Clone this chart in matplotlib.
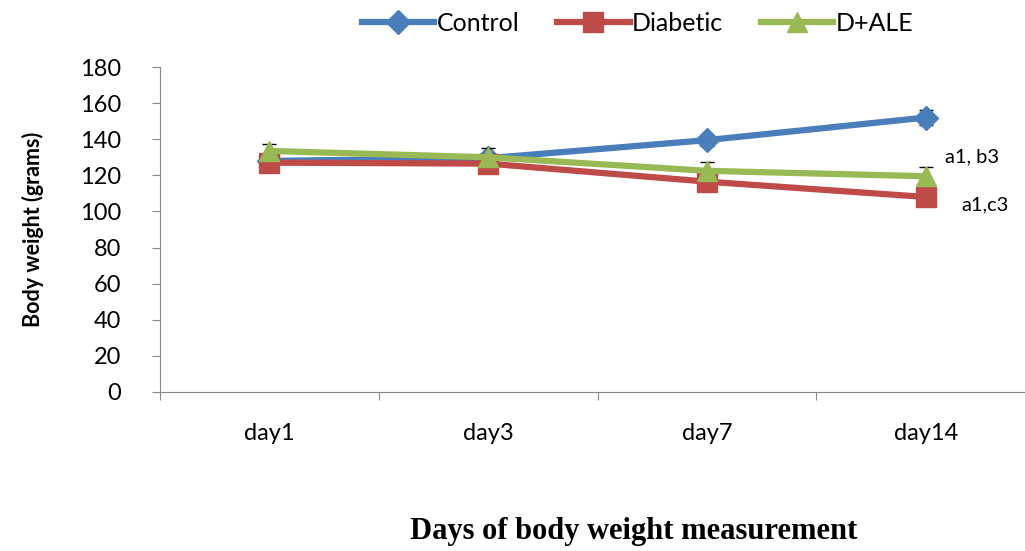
import matplotlib.pyplot as plt
import numpy as np

days = ['day1', 'day3', 'day7', 'day14']

control = [128, 129.5, 139.5, 152]
diabetic = [127, 126.5, 116.5, 108]
d_ale = [133.5, 130, 122.5, 119.5]

control_err = [3, 3, 3, 4]
diabetic_err = [4, 4, 4, 4]
d_ale_err = [4, 5, 5, 5]

blue = '#4a7ebb'
red = '#be4b48'
green = '#98b954'

plt.rcParams['font.family'] = ['Lato', 'DejaVu Sans']

fig = plt.figure(figsize=(10.25, 5.51), dpi=100)
ax = fig.add_axes([0.156, 0.2886, 0.854, 0.5898])
x = np.arange(len(days))

l1 = ax.errorbar(x, control, yerr=control_err, color=blue, lw=4.5, marker='D',
                 ms=12, ecolor='black', elinewidth=1, capsize=5, label='Control', zorder=3)
l2 = ax.errorbar(x, diabetic, yerr=diabetic_err, color=red, lw=4.5, marker='s',
                 ms=14, ecolor='black', elinewidth=1, capsize=5, label='Diabetic', zorder=4)
l3 = ax.errorbar(x, d_ale, yerr=d_ale_err, color=green, lw=4.5, marker='^',
                 ms=14, ecolor='black', elinewidth=1, capsize=5, label='D+ALE', zorder=5)

ax.set_xlim(-0.5, 3.5)
ax.set_ylim(0, 180)
ax.set_yticks(range(0, 181, 20))
ax.set_xticks(np.arange(-0.5, 3.6, 1), minor=False)
ax.set_xticklabels([])
ax.set_xticks(x, minor=True)
ax.set_xticklabels(days, minor=True, fontsize=17)
ax.tick_params(axis='x', which='minor', length=0, pad=22)
ax.tick_params(axis='x', which='major', length=6, direction='out', color='#888888')
ax.tick_params(axis='y', length=6, direction='out', color='#888888', labelsize=17, pad=22)
for s in ['top', 'right']:
    ax.spines[s].set_visible(False)
for s in ['left', 'bottom']:
    ax.spines[s].set_color('#888888')

ax.set_ylabel('Body weight (grams)', fontsize=15.5, fontweight='bold', labelpad=26)

handles = [l1[0], l2[0], l3[0]]
fig.legend(handles, ['Control', 'Diabetic', 'D+ALE'], loc='center',
           bbox_to_anchor=(0.622, 0.958), ncol=3, frameon=False, fontsize=18,
           handlelength=2.9, handletextpad=0.1, columnspacing=1.5)

fig.text(0.922, 0.715, 'a1, b3', fontsize=14.5, va='center')
fig.text(0.938, 0.628, 'a1,c3', fontsize=14.5, va='center')

fig.text(0.618, 0.022, 'Days of body weight measurement', ha='center',
         fontsize=22, fontweight='bold', family=['Liberation Serif', 'DejaVu Serif'])

fig.savefig('out.png', dpi=100)
